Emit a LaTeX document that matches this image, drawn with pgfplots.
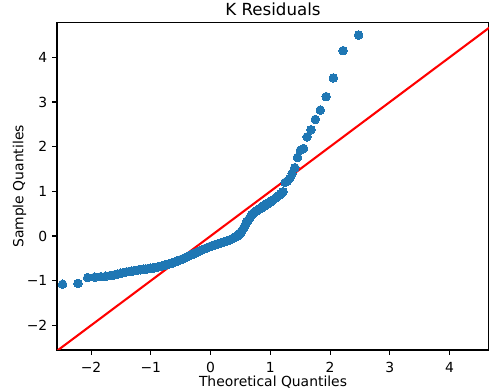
\documentclass[border=0pt]{standalone}
\usepackage{fontspec}
\setmainfont{DejaVu Sans}
\usepackage{pgfplots}
\usepackage{pgfplotstable}
\pgfplotsset{compat=1.18}
\definecolor{c0}{HTML}{1F77B4}
\pgfplotstableread{
x y
-2.477 -1.080
-2.219 -1.060
-2.056 -0.930
-1.935 -0.920
-1.837 -0.910
-1.753 -0.900
-1.681 -0.885
-1.616 -0.873
-1.557 -0.855
-1.504 -0.834
-1.455 -0.816
-1.409 -0.803
-1.365 -0.794
-1.325 -0.785
-1.286 -0.776
-1.249 -0.768
-1.213 -0.761
-1.179 -0.754
-1.146 -0.749
-1.115 -0.743
-1.084 -0.738
-1.055 -0.732
-1.026 -0.727
-0.999 -0.722
-0.972 -0.717
-0.945 -0.712
-0.920 -0.705
-0.895 -0.697
-0.870 -0.689
-0.846 -0.680
-0.823 -0.672
-0.800 -0.664
-0.777 -0.655
-0.755 -0.647
-0.733 -0.640
-0.712 -0.632
-0.690 -0.624
-0.669 -0.617
-0.649 -0.610
-0.628 -0.598
-0.608 -0.588
-0.589 -0.578
-0.569 -0.567
-0.549 -0.557
-0.530 -0.547
-0.511 -0.537
-0.492 -0.527
-0.474 -0.517
-0.455 -0.507
-0.437 -0.495
-0.419 -0.484
-0.401 -0.472
-0.383 -0.460
-0.365 -0.449
-0.347 -0.437
-0.330 -0.426
-0.312 -0.415
-0.295 -0.404
-0.277 -0.392
-0.260 -0.381
-0.243 -0.370
-0.226 -0.360
-0.209 -0.349
-0.192 -0.338
-0.175 -0.327
-0.158 -0.318
-0.142 -0.309
-0.125 -0.300
-0.108 -0.291
-0.092 -0.282
-0.075 -0.273
-0.058 -0.264
-0.042 -0.255
-0.025 -0.246
-0.008 -0.236
0.008 -0.227
0.025 -0.218
0.042 -0.209
0.058 -0.202
0.075 -0.195
0.092 -0.188
0.108 -0.181
0.125 -0.174
0.142 -0.166
0.158 -0.159
0.175 -0.152
0.192 -0.145
0.209 -0.138
0.226 -0.130
0.243 -0.123
0.260 -0.116
0.277 -0.108
0.295 -0.101
0.312 -0.093
0.330 -0.084
0.347 -0.071
0.365 -0.059
0.383 -0.046
0.401 -0.034
0.419 -0.021
0.437 -0.009
0.455 0.008
0.474 0.036
0.492 0.063
0.511 0.092
0.530 0.120
0.549 0.169
0.569 0.220
0.589 0.272
0.608 0.316
0.628 0.353
0.649 0.394
0.669 0.432
0.690 0.472
0.712 0.512
0.733 0.530
0.755 0.550
0.777 0.569
0.800 0.589
0.823 0.610
0.846 0.630
0.870 0.651
0.895 0.673
0.920 0.695
0.945 0.717
0.972 0.741
0.999 0.765
1.026 0.789
1.055 0.815
1.084 0.847
1.115 0.880
1.146 0.913
1.179 0.950
1.213 0.990
1.249 1.200
1.286 1.230
1.325 1.290
1.365 1.400
1.409 1.530
1.455 1.760
1.504 1.920
1.557 1.960
1.616 2.220
1.681 2.380
1.753 2.610
1.837 2.820
1.935 3.120
2.056 3.540
2.219 4.150
2.477 4.500
}\qq
\pgfplotstableread{
x y
-3 -3
5 5
}\refline
\begin{document}
\begin{tikzpicture}
\begin{axis}[
  scale only axis, width=311.04pt, height=235.44pt,
  xmin=-2.57, xmax=4.66, ymin=-2.55, ymax=4.77,
  axis line style={line width=0.8pt},
  tick style={line width=0.8pt, black},
  major tick length=3.5pt, tick align=outside, tick pos=left,
  xtick={-2,-1,0,1,2,3,4}, xticklabels={−2,−1,0,1,2,3,4},
  ytick={-2,-1,0,1,2,3,4}, yticklabels={−2,−1,0,1,2,3,4},
  ticklabel style={font=\fontsize{10}{12}\selectfont},
  xticklabel style={yshift=-2pt},
  title={K Residuals},
  title style={font=\fontsize{12}{14}\selectfont, at={(axis description cs:0.5,1)}, anchor=base, yshift=-1pt},
  xlabel={Theoretical Quantiles}, ylabel={Sample Quantiles},
  label style={font=\fontsize{10}{12}\selectfont},
  xlabel style={at={(axis description cs:0.5,-0.112)}, anchor=base},
  ylabel style={at={(axis description cs:-0.0781,0.5)}, anchor=base},
]
\addplot[only marks, color=c0, mark=*, mark size=3.1pt, mark options={fill=c0, draw=c0, line width=0pt}] table[x=x,y=y]{\qq};
\addplot[red, line width=1.5pt, no marks] table[x=x,y=y]{\refline};
\end{axis}
\pgfresetboundingbox
\path[use as bounding box] (-41.04pt,-29.52pt) rectangle (311.04pt,251.96pt);
\end{tikzpicture}
\end{document}
